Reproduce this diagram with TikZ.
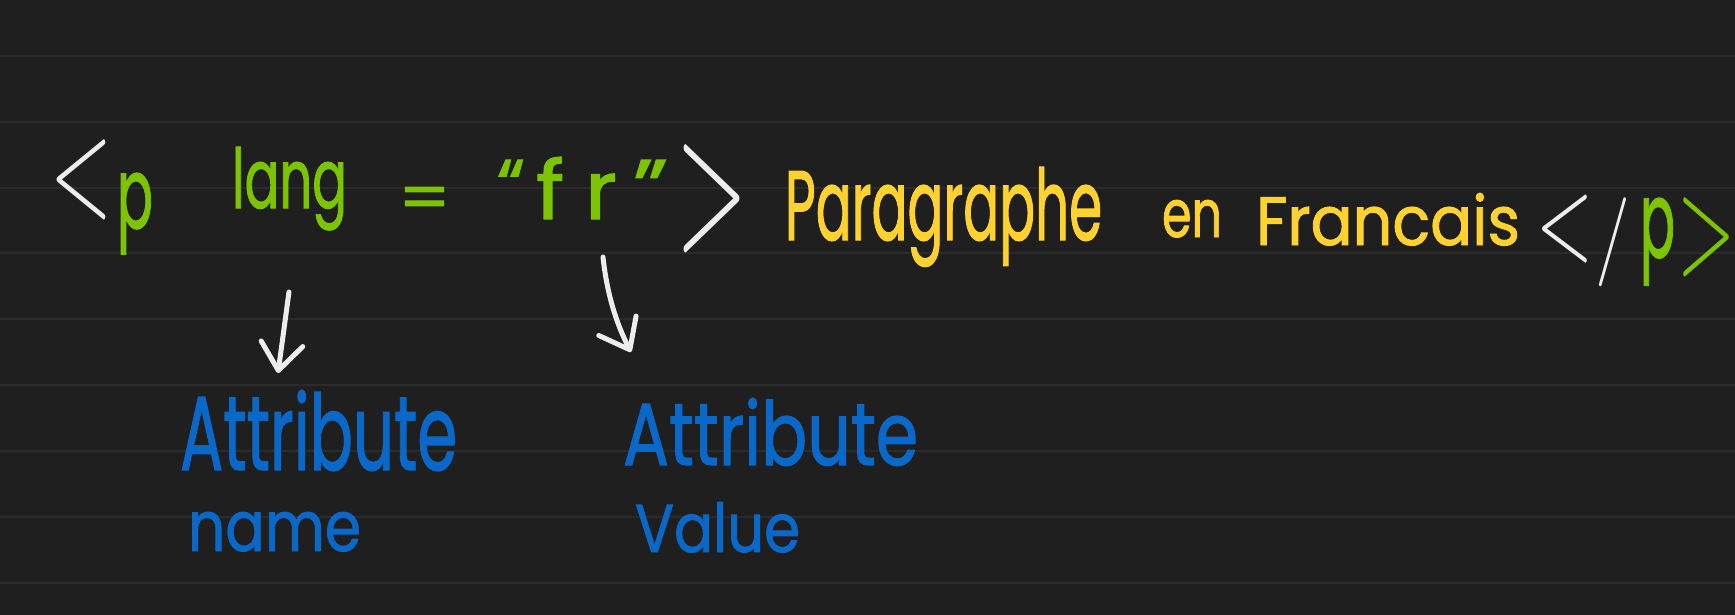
\documentclass[tikz,border=0pt]{standalone}
\usepackage{fontspec}
\setmainfont{Poppins}
\newfontfamily\penfont{Poppins}[FakeBold=1.4]
\usepackage{graphicx}
\usetikzlibrary{arrows.meta}
\definecolor{bg}{HTML}{1F1F1F}
\definecolor{rulecol}{HTML}{2B2B2B}
\definecolor{ink}{HTML}{EDEDED}
\definecolor{grn}{HTML}{7DC400}
\definecolor{ylw}{HTML}{FFD230}
\definecolor{blu}{HTML}{0A68C8}
\newcommand{\fitH}[3]{\resizebox{#1pt}{#2pt}{#3}}
\newcommand{\fitT}[3]{\resizebox*{#1pt}{#2pt}{#3}}
\begin{document}
\begin{tikzpicture}[x=1pt,y=-1pt,
  word/.style={inner sep=0pt, outer sep=0pt, anchor=base west, font=\penfont},
  glyph/.style={inner sep=0pt, outer sep=0pt, anchor=north west, font=\penfont},
  pen/.style={draw=ink, line width=5pt, line cap=round, line join=round},
  barb/.style={-{Straight Barb[length=27pt, width=42pt, round]}}]
\useasboundingbox (0,0) rectangle (1735,615);
\fill[bg] (0,0) rectangle (1735,615);
\foreach \k in {0,...,8}
  \draw[rulecol, line width=2pt] (0,{55.7+65.9*\k}) -- (1735,{55.7+65.9*\k});
% opening tag
\node[glyph, text=ink] (lt1) at (50,140) {\fitT{62}{80}{$<$}};
\node[glyph, text=grn] (p1) at (117,173) {\fitT{36}{81}{p}};
\node[word, text=grn] (lang) at (232,208) {\fitH{115}{61}{lang}};
\node[glyph, text=grn] (eq) at (398,187) {\fitT{53}{33}{=}};
\node[glyph, text=grn] (q1) at (497,160) {\fitT{28}{50}{“}};
\node[word, text=grn] (fr) at (536,219) {\fitH{81}{62}{f\kern0.24em r}};
\node[glyph, text=grn] (q2) at (633,160) {\fitT{35}{55}{”}};
\node[glyph, text=ink] (gt1) at (676,145) {\fitT{71}{108}{$>$}};
% content
\node[word, text=ylw] (para) at (785,240) {\fitH{317}{73}{Paragraphe}};
\node[word, text=ylw] (en) at (1162,237) {\fitH{60}{37}{en}};
\node[word, text=ylw] (fra) at (1256,245) {\fitH{264}{52}{Francais}};
% closing tag
\node[glyph, text=ink] (lt2) at (1536,195) {\fitT{57}{68}{$<$}};
\node[glyph, text=ink] (sl) at (1595,198) {\fitT{35}{89}{$/$}};
\node[glyph, text=grn] (p2) at (1640,198) {\fitT{35}{87}{p}};
\node[glyph, text=grn] (gt2) at (1677,198) {\fitT{58}{79}{$>$}};
% labels
\node[word, text=blu] (an1) at (180,470) {\fitH{277}{80}{Attribute}};
\node[word, text=blu] (an2) at (188,551) {\fitH{173}{39}{name}};
\node[word, text=blu] (av1) at (623,465) {\fitH{295}{67}{Attribute}};
\node[word, text=blu] (av2) at (635,552) {\fitH{165}{50}{Value}};
% arrows
\coordinate (a1s) at (289,292);
\coordinate (a1e) at (278,373);
\coordinate (a2s) at (603,257);
\coordinate (a2e) at (631,352);
\draw[pen, barb] (a1s) -- (a1e);
\draw[pen, barb] (a2s) .. controls (607,295) and (617,325) .. (a2e);
\end{tikzpicture}
\end{document}
